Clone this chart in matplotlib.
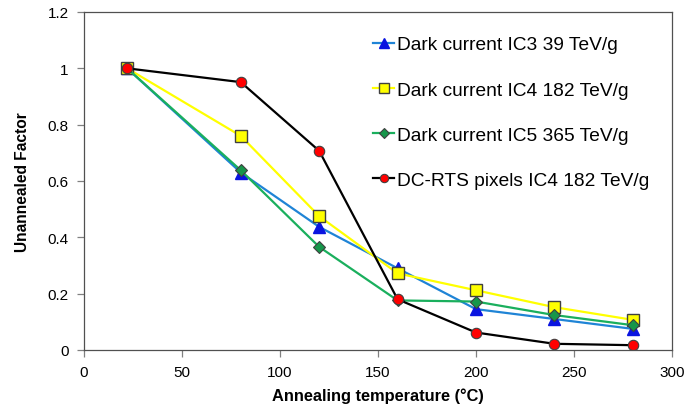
import matplotlib
matplotlib.use("Agg")
import matplotlib.pyplot as plt

plt.rcParams['font.family'] = ['Liberation Sans', 'DejaVu Sans']

temperature = [22, 80, 120, 160, 200, 240, 280]
ic3_dark = [1.0, 0.63, 0.437, 0.29, 0.145, 0.11, 0.075]
ic4_dark = [1.0, 0.76, 0.475, 0.272, 0.212, 0.152, 0.107]
ic5_dark = [1.0, 0.638, 0.366, 0.176, 0.172, 0.124, 0.088]
ic4_rts = [1.0, 0.951, 0.707, 0.18, 0.062, 0.022, 0.017]

labels = [
    "Dark current IC3 39 TeV/g",
    "Dark current IC4 182 TeV/g",
    "Dark current IC5 365 TeV/g",
    "DC-RTS pixels IC4 182 TeV/g",
]

fig = plt.figure(figsize=(6.88, 4.14), dpi=100)
ax = fig.add_axes([0.1221, 0.1522, 0.8546, 0.8164])

edge = '#404040'
ax.plot(temperature, ic3_dark, color='#1f84d6', lw=1.6, marker='^', ms=8.5,
        mfc='#0a14e0', mec='#0a14e0', label=labels[0])
ax.plot(temperature, ic4_dark, color='#ffff00', lw=1.6, marker='s', ms=8.5,
        mfc='#ffff00', mec=edge, mew=1.0, label=labels[1])
ax.plot(temperature, ic5_dark, color='#1aaf5d', lw=1.6, marker='D', ms=6.5,
        mfc='#16964a', mec=edge, mew=0.8, label=labels[2])
ax.plot(temperature, ic4_rts, color='black', lw=1.6, marker='o', ms=7.5,
        mfc='#ff0000', mec=edge, mew=0.8, label=labels[3])

ax.set_xlim(0, 300)
ax.set_ylim(0, 1.2)
ax.set_xticks(range(0, 301, 50))
ax.set_yticks([0, 0.2, 0.4, 0.6, 0.8, 1.0, 1.2])
ax.set_yticklabels(['0', '0.2', '0.4', '0.6', '0.8', '1', '1.2'])

for s in ax.spines.values():
    s.set_color('#505050')
    s.set_linewidth(0.9)
ax.tick_params(direction='out', length=5, width=0.9, color='#808080',
               labelsize=11, pad=6)

ax.set_xlabel('Annealing temperature (°C)', fontsize=11.8, fontweight='bold', labelpad=6)
ax.set_ylabel('Unannealed Factor', fontsize=11.2, fontweight='bold', labelpad=13)

leg = ax.legend(loc='upper left', bbox_to_anchor=(0.463, 0.98), frameon=False,
                fontsize=13.8, handlelength=1.05, handletextpad=0.16,
                labelspacing=1.45, markerscale=0.8)

fig.savefig('out.png', dpi=100)
